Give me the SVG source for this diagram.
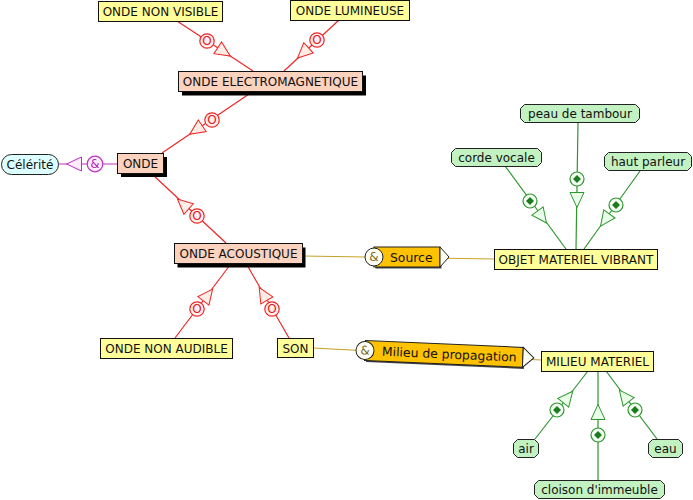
<svg xmlns="http://www.w3.org/2000/svg" xmlns:xlink="http://www.w3.org/1999/xlink" width="693" height="500" viewBox="0 0 693 500">
<style>
text{font-family:"DejaVu Sans","Liberation Sans",sans-serif;font-size:12px;fill:#111}
.t{text-anchor:middle}
.yel{fill:#FFFF99;stroke:#111;stroke-width:1}
.pch{fill:#FAD2BE;stroke:#111;stroke-width:1}
.shd{fill:#000}
.grn{fill:#C2F2C2;stroke:#222;stroke-width:1}
.cel{fill:#DDFFFF;stroke:#222;stroke-width:1}
.lr{stroke:#EE2626;stroke-width:1.2;fill:none}
.lg{stroke:#2E962E;stroke-width:1.2;fill:none}
.lm{stroke:#C030C0;stroke-width:1.2;fill:none}
.ly{stroke:#C9A227;stroke-width:1.2;fill:none}
.triR{fill:#FFEDE6;stroke:#EE2626;stroke-width:1}
.triG{fill:#EAFFEA;stroke:#2E962E;stroke-width:1}
.triM{fill:#FFEAFF;stroke:#C030C0;stroke-width:1}
.cR{fill:#FFEEEE;stroke:#EE2626;stroke-width:1.2}
.cG{fill:#F2FFF2;stroke:#2E962E;stroke-width:1.2}
.cM{fill:#FFEEFF;stroke:#C030C0;stroke-width:1.2}
.oR{fill:#E02020;font-size:12px;text-anchor:middle}
.oM{fill:#B020B0;font-size:11.5px;text-anchor:middle}
.lab{fill:#FFC200;stroke:#222;stroke-width:1}
.lc{fill:#FFFFF4;stroke:#222;stroke-width:1}
.amp{fill:#7A6A2A;font-size:12px;text-anchor:middle}
.lt{font-size:12.4px}
</style>
<defs>
<path id="tri" d="M7.5,0 L-7.5,-7 L-7.5,7 Z"/>
<path id="dia" d="M0,-4 L4,0 L0,4 L-4,0 Z" fill="#1E7A1E"/>
</defs>
<g id="connectors">
<line class="lr" x1="177" y1="21" x2="253" y2="71"/>
<line class="lr" x1="339" y1="20" x2="284" y2="71"/>
<line class="lr" x1="252" y1="92" x2="162" y2="153"/>
<line class="lr" x1="226" y1="243" x2="153" y2="175"/>
<line class="lr" x1="175" y1="338" x2="230" y2="265"/>
<line class="lr" x1="289" y1="338" x2="247" y2="265"/>
<line class="lm" x1="58" y1="164" x2="117" y2="164"/>
<line class="lg" x1="505" y1="166" x2="566" y2="249"/>
<line class="lg" x1="578" y1="123" x2="576" y2="249"/>
<line class="lg" x1="640" y1="171" x2="584" y2="249"/>
<line class="lg" x1="535" y1="439" x2="588" y2="371"/>
<line class="lg" x1="598" y1="480" x2="598" y2="371"/>
<line class="lg" x1="657" y1="439" x2="606" y2="371"/>
<line class="ly" x1="302" y1="256" x2="494" y2="259"/>
<line class="ly" x1="313" y1="348" x2="541" y2="360"/>
<use xlink:href="#tri" class="triR" transform="translate(224,52) rotate(33.3)"/>
<use xlink:href="#tri" class="triR" transform="translate(303,53) rotate(137.2)"/>
<use xlink:href="#tri" class="triR" transform="translate(196,130) rotate(145.9)"/>
<use xlink:href="#tri" class="triR" transform="translate(183,204) rotate(222.1)"/>
<use xlink:href="#tri" class="triR" transform="translate(208,295) rotate(-52.2)"/>
<use xlink:href="#tri" class="triR" transform="translate(263,294) rotate(-120.6)"/>
<use xlink:href="#tri" class="triM" transform="translate(74,164) rotate(180)"/>
<use xlink:href="#tri" class="triG" transform="translate(542,217) rotate(53.4)"/>
<use xlink:href="#tri" class="triG" transform="translate(577,200) rotate(90)"/>
<use xlink:href="#tri" class="triG" transform="translate(605,220) rotate(126)"/>
<use xlink:href="#tri" class="triG" transform="translate(568,397) rotate(-50.8)"/>
<use xlink:href="#tri" class="triG" transform="translate(598,412) rotate(-90)"/>
<use xlink:href="#tri" class="triG" transform="translate(624,396) rotate(-128.1)"/>
<circle class="cR" cx="207" cy="41" r="7.2"/><text class="oR" x="207" y="45.3">O</text>
<circle class="cR" cx="317" cy="40" r="7.2"/><text class="oR" x="317" y="44.3">O</text>
<circle class="cR" cx="212" cy="120" r="7.2"/><text class="oR" x="212" y="124.3">O</text>
<circle class="cR" cx="197" cy="216" r="7.2"/><text class="oR" x="197" y="220.3">O</text>
<circle class="cR" cx="197" cy="309" r="7.2"/><text class="oR" x="197" y="313.3">O</text>
<circle class="cR" cx="272" cy="309" r="7.2"/><text class="oR" x="272" y="313.3">O</text>
<circle class="cM" cx="95" cy="164" r="7.8"/><text class="oM" x="95" y="168">&amp;</text>
<circle class="cG" cx="530" cy="201" r="7"/><use xlink:href="#dia" x="530" y="201"/>
<circle class="cG" cx="577" cy="179" r="7"/><use xlink:href="#dia" x="577" y="179"/>
<circle class="cG" cx="616" cy="205" r="7"/><use xlink:href="#dia" x="616" y="205"/>
<circle class="cG" cx="557" cy="410" r="7"/><use xlink:href="#dia" x="557" y="410"/>
<circle class="cG" cx="598" cy="435" r="7"/><use xlink:href="#dia" x="598" y="435"/>
<circle class="cG" cx="635" cy="410" r="7"/><use xlink:href="#dia" x="635" y="410"/>
<g id="label-source">
<rect x="375.5" y="248.5" width="66" height="20" fill="#444"/>
<rect class="lab" x="374" y="247" width="66" height="20"/>
<path class="lc" d="M440,247 L449,257 L440,267 Z"/>
<circle class="lc" cx="374" cy="257" r="9"/>
<text class="amp" x="374" y="261">&amp;</text>
<text class="lt" x="390" y="261.5">Source</text>
</g>
<g id="label-milieu" transform="translate(365,350.5) rotate(2.5)">
<rect x="1.5" y="-8.5" width="158" height="20" fill="#444"/>
<rect class="lab" x="0" y="-10" width="158" height="20"/>
<path class="lc" d="M158,-10 L169,0 L158,10 Z"/>
<circle class="lc" cx="0" cy="0" r="9"/>
<text class="amp" x="0" y="4">&amp;</text>
<text class="lt" x="17" y="4.5">Milieu de propagation</text>
</g>
</g>
<g id="n-onde-non-visible"><rect class="yel" x="98.5" y="1.5" width="124" height="20"/><text class="t" x="160.5" y="16">ONDE NON VISIBLE</text></g>
<g id="n-onde-lumineuse"><rect class="yel" x="290.5" y="0.5" width="119" height="20"/><text class="t" x="350" y="15">ONDE LUMINEUSE</text></g>
<g id="n-onde-electro"><rect class="shd" x="182" y="75.5" width="184" height="20"/><rect class="pch" x="178.5" y="71.5" width="184" height="20"/><text class="t" x="270.5" y="86">ONDE ELECTROMAGNETIQUE</text></g>
<g id="n-onde"><rect class="shd" x="121" y="157" width="46" height="20"/><rect class="pch" x="117.5" y="153.5" width="46" height="20"/><text class="t" x="140.5" y="168">ONDE</text></g>
<g id="n-celerite"><rect class="cel" x="1.5" y="154.5" width="57" height="20" rx="10"/><text class="t" x="30" y="169">Célérité</text></g>
<g id="n-onde-acoustique"><rect class="shd" x="177.5" y="247.5" width="128" height="20"/><rect class="pch" x="174.5" y="243.5" width="128" height="20"/><text class="t" x="238.5" y="258">ONDE ACOUSTIQUE</text></g>
<g id="n-onde-non-audible"><rect class="yel" x="100.5" y="338.5" width="132" height="20"/><text class="t" x="166.5" y="353">ONDE NON AUDIBLE</text></g>
<g id="n-son"><rect class="yel" x="277.5" y="338.5" width="36" height="19"/><text class="t" x="295.5" y="352.5">SON</text></g>
<g id="n-objet"><rect class="yel" x="494.5" y="249.5" width="163" height="20"/><text class="t" x="576" y="264">OBJET MATERIEL VIBRANT</text></g>
<g id="n-milieu"><rect class="yel" x="541.5" y="351.5" width="112" height="20"/><text class="t" x="597.5" y="366">MILIEU MATERIEL</text></g>
<g id="n-peau"><path class="grn" d="M524.5,104.5 H635.5 L639.5,108.5 V118.5 L635.5,122.5 H524.5 L520.5,118.5 V108.5 Z"/><text class="t" x="580" y="118">peau de tambour</text></g>
<g id="n-corde"><path class="grn" d="M455.5,148.5 H537.5 L541.5,152.5 V162.5 L537.5,166.5 H455.5 L451.5,162.5 V152.5 Z"/><text class="t" x="496.5" y="162">corde vocale</text></g>
<g id="n-haut"><path class="grn" d="M608.5,152.5 H687.5 L691.5,156.5 V166.5 L687.5,170.5 H608.5 L604.5,166.5 V156.5 Z"/><text class="t" x="648" y="166">haut parleur</text></g>
<g id="n-air"><path class="grn" d="M517.5,439.5 H534.5 L538.5,443.5 V453.5 L534.5,457.5 H517.5 L513.5,453.5 V443.5 Z"/><text class="t" x="526" y="453">air</text></g>
<g id="n-eau"><path class="grn" d="M652.5,439.5 H678.5 L682.5,443.5 V453.5 L678.5,457.5 H652.5 L648.5,453.5 V443.5 Z"/><text class="t" x="665.5" y="453">eau</text></g>
<g id="n-cloison"><path class="grn" d="M538.5,480.5 H660.5 L664.5,484.5 V494.5 L660.5,498.5 H538.5 L534.5,494.5 V484.5 Z"/><text class="t" x="599.5" y="494">cloison d'immeuble</text></g>
</svg>
